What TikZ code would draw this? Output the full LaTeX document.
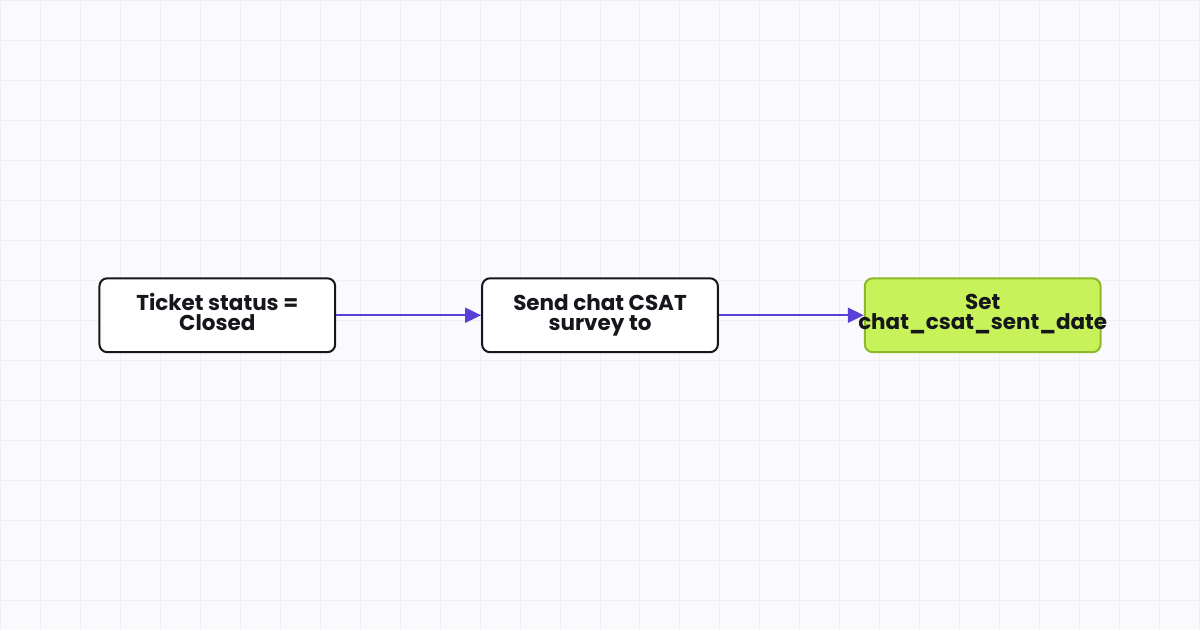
\documentclass[tikz,border=0pt]{standalone}
\usepackage{fontspec}
\setmainfont{Poppins}
\usetikzlibrary{arrows.meta,positioning}
\definecolor{bgcol}{HTML}{FAFAFD}
\definecolor{gridcol}{HTML}{EEEDF8}
\definecolor{edgecol}{HTML}{5B3FD9}
\definecolor{limefill}{HTML}{C8F25A}
\definecolor{limeline}{HTML}{8DB82B}
\definecolor{inkcol}{HTML}{16161D}

\begin{document}
\begin{tikzpicture}[x=1pt,y=-1pt,
  box/.style={rectangle,rounded corners=8pt,draw=inkcol,line width=2pt,fill=white,
    minimum width=236pt,minimum height=74pt,align=center,text=inkcol,inner sep=0pt,
    font=\fontsize{21.5}{20}\selectfont\bfseries,execute at end node={\strut}},
  goal/.style={box,draw=limeline,fill=limefill},
  flow/.style={draw=edgecol,line width=2pt,-{Triangle[length=16pt,width=15pt]}}]

% Background and grid
\fill[bgcol] (0,0) rectangle (1200,630);
\foreach \gx in {0,40,...,1200}
  \draw[gridcol,line width=1pt] (\gx,0) -- (\gx,630);
\foreach \gy in {0,40,...,600}
  \draw[gridcol,line width=1pt] (0,\gy) -- (1200,\gy);
\useasboundingbox (0,0) rectangle (1200,630);

% Steps
\node (closed) at (217,315) [box] {Ticket status =\\Closed};
\node (survey) at (600,315) [box] {Send chat CSAT\\survey to};
\node (setdate) at (983,315) [goal] {Set\\\makebox[0pt]{chat\_csat\_sent\_date}};

% Arrows
\draw[flow] (closed) -- (survey);
\draw[flow] (survey) -- (setdate);
\end{tikzpicture}
\end{document}
